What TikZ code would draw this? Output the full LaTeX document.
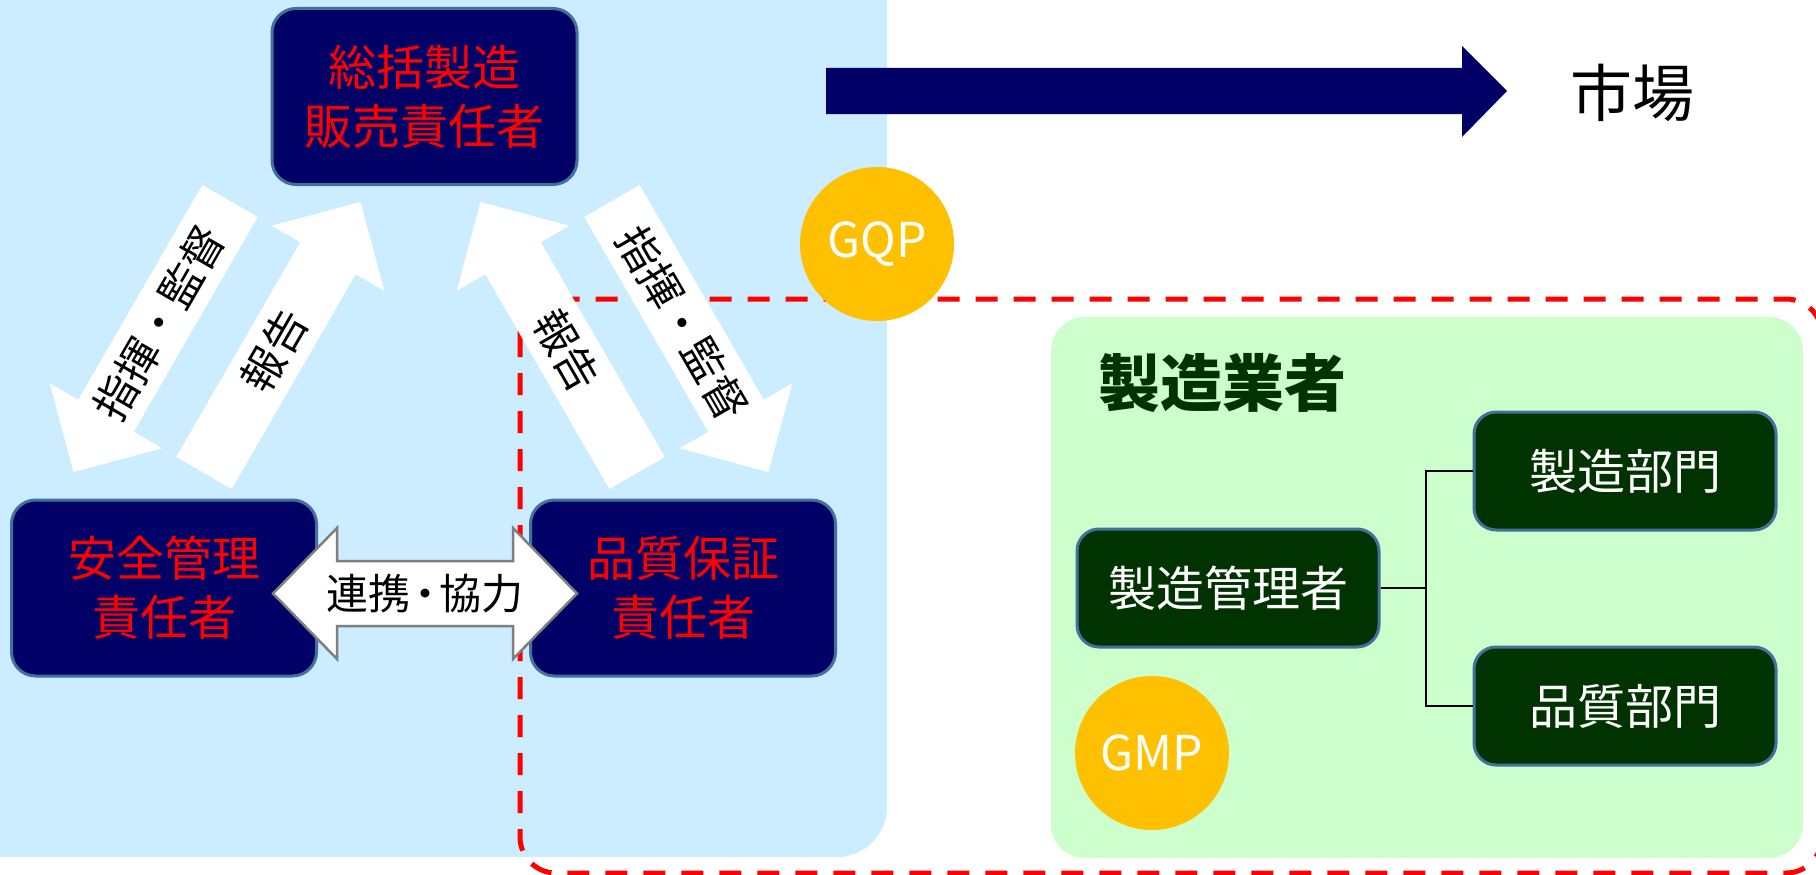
\documentclass[tikz,border=0pt]{standalone}
\usepackage{fontspec}
\setmainfont{Noto Sans CJK JP}
\definecolor{navy}{HTML}{000066}
\definecolor{lightblue}{HTML}{CCECFF}
\definecolor{lightgreen}{HTML}{CCFFCC}
\definecolor{dkgreen}{HTML}{003300}
\definecolor{gold}{HTML}{FFC000}
\definecolor{edge}{HTML}{41719C}
\definecolor{arrowedge}{HTML}{7F7F7F}
\tikzset{
  bluebox/.style={draw=edge, line width=3pt, fill=navy, rounded corners=24pt,
    minimum width=305pt, minimum height=176pt, align=center, text=red,
    inner sep=0pt, font=\fontsize{48pt}{59pt}\selectfont},
  greenbox/.style={draw=edge, line width=3pt, fill=dkgreen, rounded corners=22pt,
    minimum width=302pt, minimum height=118pt, text=white, inner sep=0pt,
    font=\fontsize{48pt}{58pt}\selectfont},
  arrtext/.style={font=\fontsize{43pt}{50pt}\selectfont, text=black, inner sep=0pt},
  badge/.style={circle, fill=gold, minimum size=154pt, text=white, inner sep=0pt,
    font=\fontsize{48pt}{56pt}\selectfont},
  whitearrow/.style={fill=white},
  treeline/.style={draw=black, line width=1.5pt},
}
\newcommand\blockarr[5]{%
  \begin{scope}[shift={#2}, rotate=#3]
    \fill[whitearrow] (0,-32) -- (248,-32) -- (248,-65) -- (313,0) -- (248,65) -- (248,32) -- (0,32) -- cycle;
    \node[arrtext, rotate=#4] (#1) at (141,0) {#5};
  \end{scope}}
\newcommand\tightdot{\kern-0.15em・\kern-0.15em}
\begin{document}
\begin{tikzpicture}[x=1pt,y=-1pt]
\useasboundingbox (0,0) rectangle (1816,875);
% panels
\fill[lightblue, rounded corners=50pt] (-60,-60) rectangle (887,857);
\fill[lightgreen, rounded corners=34pt] (1051,317) rectangle (1803,858);
\draw[red, line width=5pt, dash pattern=on 22pt off 16pt, rounded corners=36pt] (520,299) rectangle (1822,873);
% white arrows
\blockarr{cmdL}{(230,201)}{240}{60}{指揮・監督}
\blockarr{repL}{(204,473)}{60}{60}{報告}
\blockarr{repR}{(637,473)}{120}{-60}{報告}
\blockarr{cmdR}{(612,201)}{-60}{-60}{指揮・監督}
% blue boxes
\node[bluebox] (top) at (424.5,96.5) {総括製造\\販売責任者};
\node[bluebox] (safety) at (164,588) {安全管理\\責任者};
\node[bluebox] (qa) at (683,588) {品質保証\\責任者};
% double arrow
\filldraw[fill=white, draw=arrowedge, line width=2.5pt]
  (273,593.5) -- (337,528) -- (337,561) -- (513,561) -- (513,528) -- (577,593.5)
  -- (513,659) -- (513,626) -- (337,626) -- (337,659) -- cycle;
\node[font=\fontsize{42pt}{50pt}\selectfont, inner sep=0pt] (collab) at (425,594) {連携\tightdot 協力};
% manufacturer
\node[font=\fontsize{62pt}{70pt}\selectfont\bfseries, text=dkgreen, inner sep=0pt] (title) at (1222,383) {製造業者};
\node[greenbox] (mgr) at (1228,588) {製造管理者};
\node[greenbox] (mfg) at (1625,471) {製造部門};
\node[greenbox] (qual) at (1625,706) {品質部門};
\draw[treeline] (mgr.east) -- (1426,588) coordinate (j);
\draw[treeline] (mfg.west) -| (j) |- (qual.west);
% badges
\node[badge] (gqp) at (877,244) {GQP};
\node[badge] (gmp) at (1152,753) {GMP};
% market arrow
\fill[navy] (826,68) -- (1462,68) -- (1462,46) -- (1507,91) -- (1462,137) -- (1462,114) -- (826,114) -- cycle;
\node[font=\fontsize{62pt}{70pt}\selectfont, inner sep=0pt] (market) at (1632,93) {市場};
\end{tikzpicture}
\end{document}
